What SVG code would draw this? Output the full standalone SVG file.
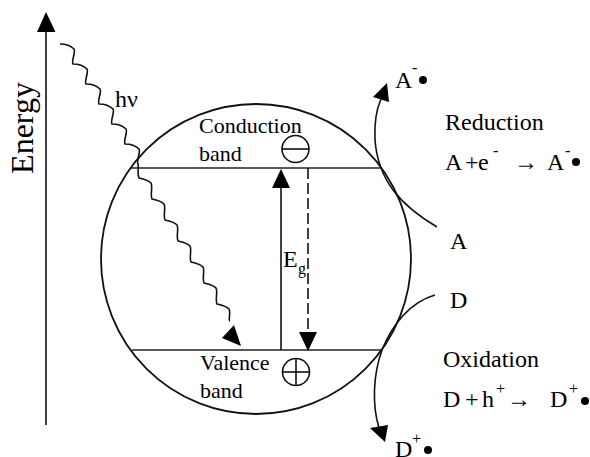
<svg xmlns="http://www.w3.org/2000/svg" width="590" height="457" viewBox="0 0 590 457">
<style>
.ln{fill:none;stroke:#111;stroke-width:1.6}
.thin{fill:none;stroke:#222;stroke-width:1.3}
.ah{fill:#000;stroke:none}
</style>
<rect width="590" height="457" fill="#fff"/>
<g id="axis">
<line class="ln" x1="46" y1="30" x2="46" y2="425"/>
<polygon class="ah" points="46,12 37,32 55.5,32"/>
<text transform="translate(33,128) rotate(-90)" text-anchor="middle" font-size="32" font-family="Liberation Serif">Energy</text>
</g>
<g id="particle">
<circle class="ln" cx="256" cy="259" r="155" style="stroke-width:1.8"/>
<line class="thin" x1="131" y1="168" x2="382" y2="168"/>
<line class="thin" x1="132" y1="350" x2="381" y2="350"/>
</g>
<g id="conduction-band">
<text font-family="Liberation Serif" font-size="22" x="199" y="133">Conduction</text>
<text font-family="Liberation Serif" font-size="22" x="199" y="161">band</text>
<circle class="ln" cx="295.5" cy="149" r="13.5"/>
<line class="ln" x1="282" y1="149" x2="309" y2="149"/>
</g>
<g id="valence-band">
<text font-family="Liberation Serif" font-size="22" x="200" y="370">Valence</text>
<text font-family="Liberation Serif" font-size="22" x="200" y="398">band</text>
<circle class="ln" cx="296" cy="372" r="13.5"/>
<line class="ln" x1="282.5" y1="372" x2="309.5" y2="372"/>
<line class="ln" x1="296" y1="358.5" x2="296" y2="385.5"/>
</g>
<g id="photon">
<text font-family="Liberation Serif" font-size="24" x="115" y="107">hν</text>
</g>
<g id="gap">
<text font-family="Liberation Serif" font-size="24" x="283" y="267">E</text>
<text font-family="Liberation Serif" font-size="16" x="298" y="274">g</text>
</g>
<g id="reduction">
<text font-family="Liberation Serif" font-size="24" x="395" y="88">A</text>
<text font-family="Liberation Serif" font-size="16" x="412" y="73">-</text>
<circle cx="423" cy="80" r="4" fill="#000"/>
<text font-family="Liberation Serif" font-size="24" x="445" y="130">Reduction</text>
<text font-family="Liberation Serif" font-size="24" x="445" y="170">A</text>
<text font-family="Liberation Serif" font-size="24" x="465" y="170">+</text>
<text font-family="Liberation Serif" font-size="24" x="478" y="170">e</text>
<text font-family="Liberation Serif" font-size="16" x="493" y="156">-</text>
<text font-family="Liberation Serif" font-size="24" x="514" y="170">→</text>
<text font-family="Liberation Serif" font-size="24" x="547" y="170">A</text>
<text font-family="Liberation Serif" font-size="16" x="565" y="156">-</text>
<circle cx="576" cy="162" r="4" fill="#000"/>
<text font-family="Liberation Serif" font-size="24" x="450" y="249">A</text>
</g>
<g id="oxidation">
<text font-family="Liberation Serif" font-size="24" x="450" y="308">D</text>
<text font-family="Liberation Serif" font-size="24" x="443" y="367">Oxidation</text>
<text font-family="Liberation Serif" font-size="24" x="443" y="407">D</text>
<text font-family="Liberation Serif" font-size="24" x="465" y="407">+</text>
<text font-family="Liberation Serif" font-size="24" x="482" y="407">h</text>
<text font-family="Liberation Serif" font-size="16" x="496" y="394">+</text>
<text font-family="Liberation Serif" font-size="24" x="507" y="407">→</text>
<text font-family="Liberation Serif" font-size="24" x="550" y="407">D</text>
<text font-family="Liberation Serif" font-size="16" x="569" y="394">+</text>
<circle cx="585" cy="401" r="4" fill="#000"/>
<text font-family="Liberation Serif" font-size="24" x="395" y="457">D</text>
<text font-family="Liberation Serif" font-size="16" x="412" y="444">+</text>
<circle cx="428" cy="450" r="4" fill="#000"/>
</g>
<g id="connectors">
<path class="ln" d="M60,44 c5,0 11,2 14,5 c2,3 -3,12 -1,15 c5,0 11,2 14,5 c2,3 -3,12 -1,15 c5,0 11,2 14,5 c2,3 -3,12 -1,15 c5,0 11,2 14,5 c2,3 -3,12 -1,15 c5,0 11,2 14,5 c2,3 -3,12 -1,15 c5,0 11,2 14,5 c2,3 -3,12 -1,15 c1,4 -1,10 1,14 c4,1 9,2 12,5 c2,3 -1,12 1,16 c4,1 9,2 12,5 c2,3 -1,12 1,16 c4,1 9,2 12,5 c2,3 -1,12 1,16 c4,1 9,2 12,5 c2,3 -1,12 1,16 c4,1 9,2 12,5 c2,3 -1,12 1,16 c4,1 9,2 12,5 c2,3 -1,12 1,16 c4,1 9,2 12,5 c2,3 -1,12 1,12"/>
<polygon class="ah" points="241,346 222,338 234,325"/>
<line class="ln" x1="281" y1="186" x2="281" y2="350"/>
<polygon class="ah" points="281,169 272,188 290,188"/>
<line class="ln" x1="308" y1="168" x2="308" y2="334" stroke-dasharray="11,4"/>
<polygon class="ah" points="308,351 299,332 317,332"/>
<path class="ln" d="M437,227 C400,205 378,180 375,140 C374,120 377,108 381,99"/>
<polygon class="ah" points="387,83 373,97 389,102"/>
<path class="ln" d="M435,295 C410,302 392,325 382,350 C373,375 372,405 379,428"/>
<polygon class="ah" points="385,442 370,428 388,425"/>
</g>
</svg>
